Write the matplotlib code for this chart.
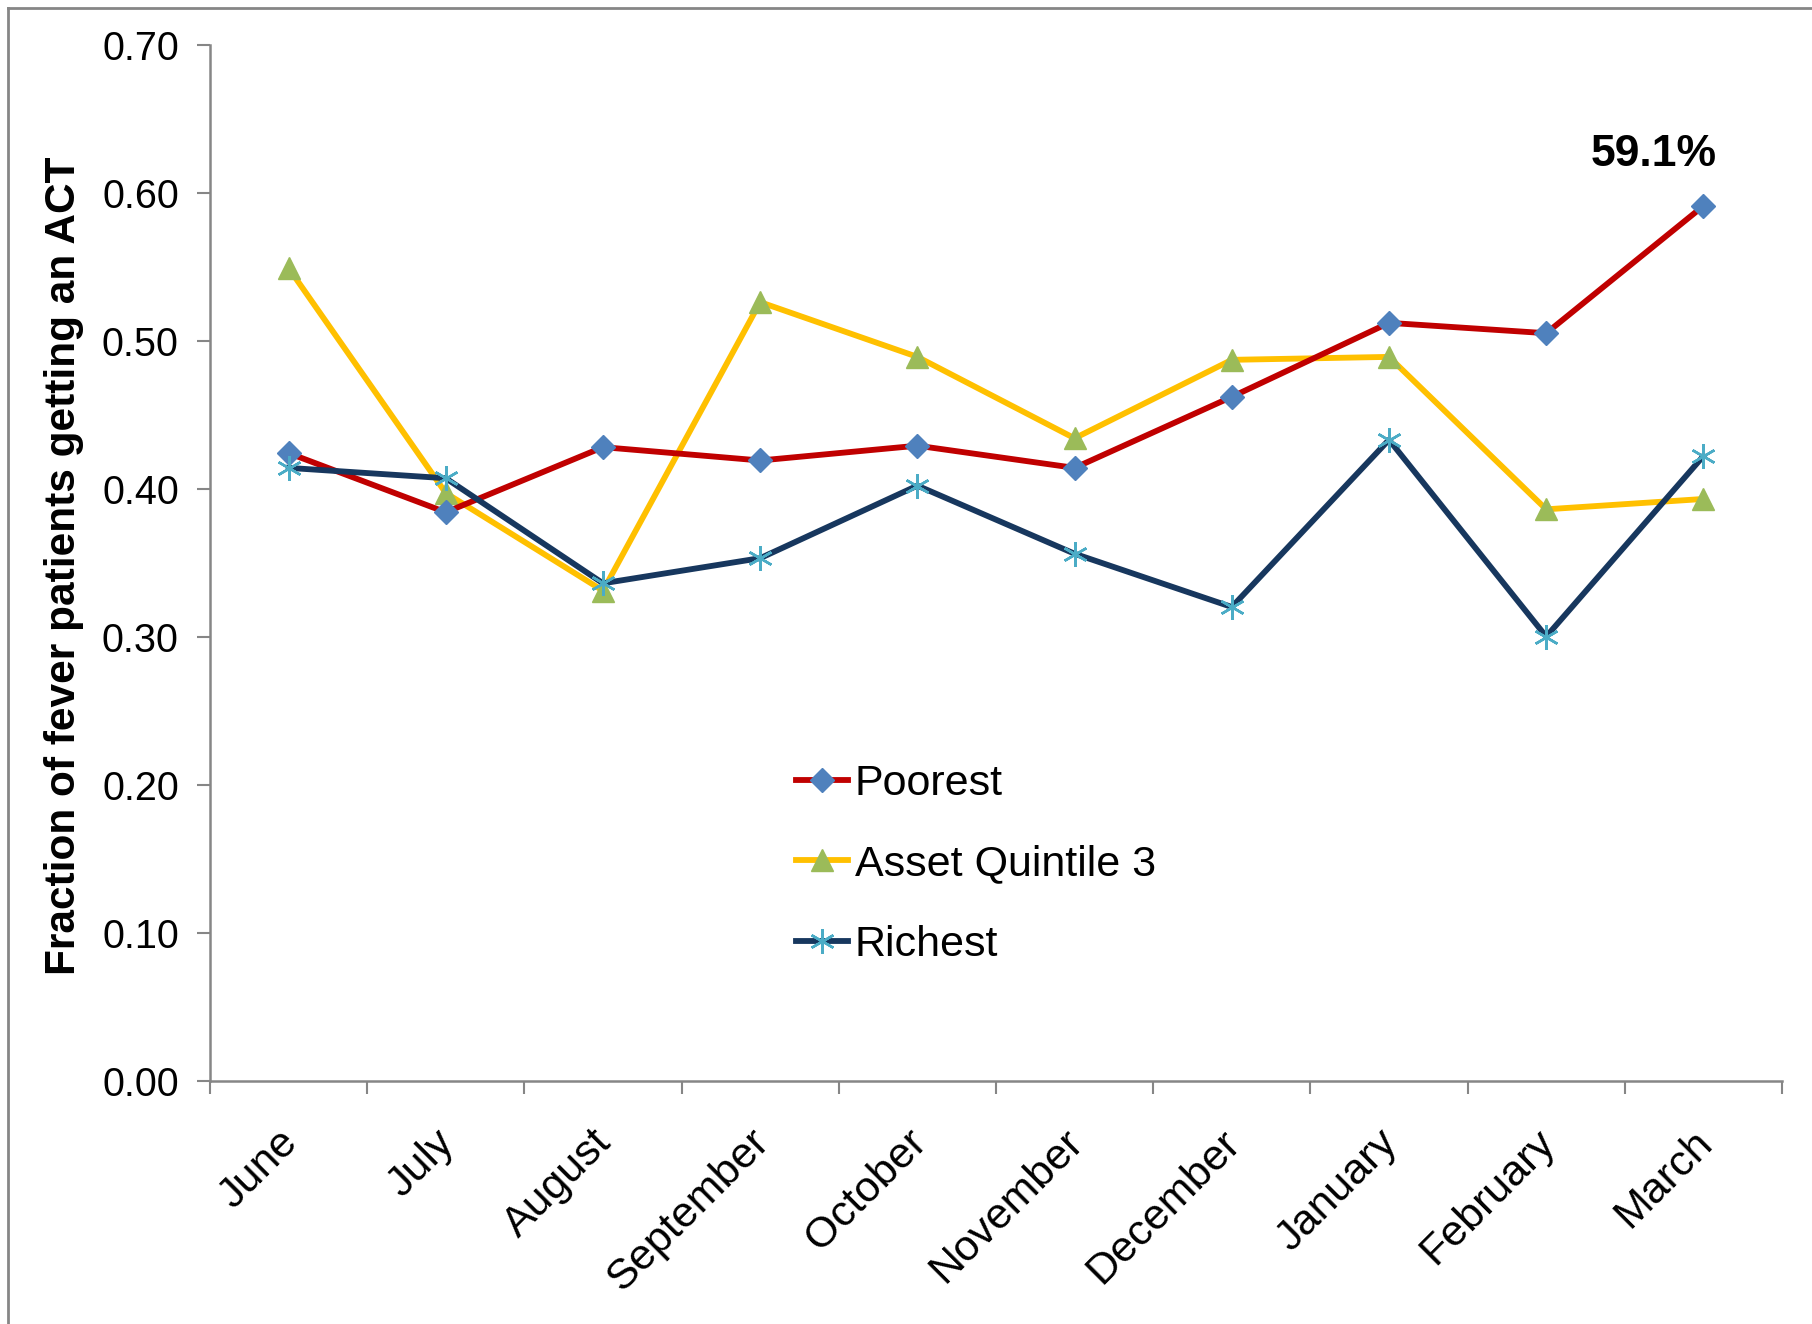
import matplotlib
matplotlib.use("Agg")
import matplotlib.pyplot as plt
from matplotlib.lines import Line2D
from matplotlib.transforms import ScaledTranslation
from matplotlib import font_manager

# data
months = ["June", "July", "August", "September", "October", "November",
          "December", "January", "February", "March"]
poorest = [0.424, 0.384, 0.428, 0.419, 0.429, 0.414, 0.462, 0.512, 0.505, 0.591]
quintile3 = [0.549, 0.397, 0.331, 0.526, 0.489, 0.434, 0.487, 0.489, 0.386, 0.393]
richest = [0.414, 0.407, 0.336, 0.353, 0.402, 0.356, 0.320, 0.433, 0.300, 0.422]
yticks = [0.0, 0.1, 0.2, 0.3, 0.4, 0.5, 0.6, 0.7]

names = {f.name for f in font_manager.fontManager.ttflist}
narrow = "Liberation Sans Narrow" if "Liberation Sans Narrow" in names else "Liberation Sans"
plt.rcParams["font.family"] = ["Liberation Sans", "DejaVu Sans"]

W, H = 1812, 1324
fig = plt.figure(figsize=(W / 100, H / 100), dpi=100)
ax = fig.add_axes([210 / W, 1 - 1080.6 / H, 1572 / W, (1080.6 - 44.6) / H])

x = list(range(len(months)))
ax.plot(x, poorest, color="#C00000", lw=4.2, marker="D", ms=12,
        mfc="#4F81BD", mec="#4F81BD", label="Poorest", zorder=3)
ax.plot(x, quintile3, color="#FFC000", lw=4.2, marker="^", ms=16,
        mfc="#9BBB59", mec="#9BBB59", label="Asset Quintile 3", zorder=2)
ax.plot(x, richest, color="#17375E", lw=4.2, marker=(6, 2, 0), ms=18,
        mfc="#4BACC6", mec="#4BACC6", mew=1.8, label="Richest", zorder=4)

ax.annotate("59.1%", xy=(x[-1], poorest[-1]), xytext=(-36, 37),
            textcoords="offset points", ha="center", va="center",
            fontsize=32, fontweight="bold", family=[narrow, "DejaVu Sans"])

ax.set_xlim(-0.5, len(months) - 0.5)
ax.set_ylim(0, 0.7)
ax.set_yticks(yticks)
ax.set_yticklabels([f"{v:.2f}" for v in yticks])
ax.set_xticks([i - 0.5 for i in range(len(months) + 1)], minor=False)
ax.set_xticklabels([])
ax.set_xticks(x, minor=True)
ax.tick_params(axis="x", which="minor", length=0, pad=30)
ax.tick_params(axis="x", which="major", length=9.5, width=1.5, color="#868686")
ax.tick_params(axis="y", length=9.5, width=1.5, color="#868686", labelsize=28.5, pad=13)
ax.set_xticklabels(months, minor=True, rotation=45, ha="right", va="top",
                   rotation_mode="anchor", fontsize=31)
# nudge month labels a little to the left, as in the original
shift = ScaledTranslation(-0.115, 0, fig.dpi_scale_trans)
for lbl in ax.get_xticklabels(minor=True):
    lbl.set_transform(lbl.get_transform() + shift)

for s in ["top", "right"]:
    ax.spines[s].set_visible(False)
for s in ["left", "bottom"]:
    ax.spines[s].set_color("#868686")
    ax.spines[s].set_linewidth(1.8)

ax.set_ylabel("Fraction of fever patients getting an ACT", fontsize=30.5,
              fontweight="bold", family=[narrow, "DejaVu Sans"])
ax.yaxis.set_label_coords(-0.08, 0.497)

ax.legend(loc="upper left", bbox_to_anchor=(0.373, 0.306), frameon=False,
          fontsize=31, handlelength=1.21, handletextpad=0.15, labelspacing=0.95,
          borderpad=0, borderaxespad=0)

# outer chart border (top and left edges only visible)
fig.add_artist(Line2D([8 / W, 1], [1 - 8 / H, 1 - 8 / H], color="#868686", lw=2,
                      transform=fig.transFigure))
fig.add_artist(Line2D([8 / W, 8 / W], [0, 1 - 8 / H], color="#868686", lw=2,
                      transform=fig.transFigure))

fig.savefig("out.png", dpi=100)
